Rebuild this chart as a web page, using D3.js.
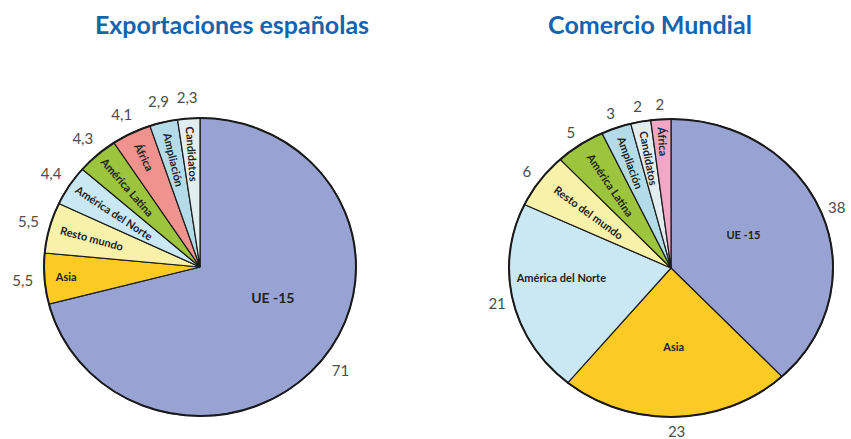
<!DOCTYPE html>
<html>
<head>
<meta charset="utf-8">
<script src="https://cdn.jsdelivr.net/npm/d3@7"></script>
<style>
  body { margin: 0; background: #fff; }
  svg { display: block; font-family: Lato, "Open Sans", sans-serif; }
  .title { fill: #1763ad; font-weight: bold; font-size: 25px; }
  .val { fill: #4d4d4d; font-size: 15px; }
  .lab { fill: #222; font-weight: bold; }
</style>
</head>
<body>
<svg id="svg" width="851" height="439"></svg>
<script>
// Exportaciones españolas
var espCategories = ["UE -15", "Asia", "Resto mundo", "América del Norte", "América Latina", "África", "Ampliación", "Candidatos"];
var espValues = [71, 5.5, 5.5, 4.4, 4.3, 4.1, 2.9, 2.3];
var espValueLabels = ["71", "5,5", "5,5", "4,4", "4,3", "4,1", "2,9", "2,3"];

// Comercio Mundial
var mundCategories = ["UE -15", "Asia", "América del Norte", "Resto del mundo", "América Latina", "Ampliación", "Candidatos", "África"];
var mundValues = [38, 23, 21, 6, 5, 3, 2, 2];
var mundValueLabels = ["38", "23", "21", "6", "5", "3", "2", "2"];

var colors = {
  "UE -15": "#99a3d3",
  "Asia": "#fbcb23",
  "Resto mundo": "#f8f1aa",
  "Resto del mundo": "#f8f1aa",
  "América del Norte": "#c9e8f4",
  "América Latina": "#9dc43d",
  "Ampliación": "#b4dce8",
  "Candidatos": "#e2edef"
};

var svg = d3.select("#svg");

function drawPie(opts) {
  var R = 100;
  var g = svg.append("g");
  var pie = d3.pie().value(function(d) { return d.value; }).sort(null);
  var arc = d3.arc().innerRadius(0).outerRadius(R);
  var data = opts.cats.map(function(c, i) { return { name: c, value: opts.values[i], label: opts.valLabels[i], i: i }; });
  var arcs = pie(data);

  g.append("g")
    .attr("transform", "translate(" + opts.cx + "," + opts.cy + ") scale(" + opts.rx / R + "," + opts.ry / R + ")")
    .selectAll("path")
    .data(arcs)
    .enter().append("path")
    .attr("d", arc)
    .attr("fill", function(d) { return opts.color(d.data.name); })
    .attr("stroke", "#1a1a1a")
    .attr("stroke-width", 1.2)
    .attr("vector-effect", "non-scaling-stroke");

  g.append("ellipse")
    .attr("cx", opts.cx).attr("cy", opts.cy)
    .attr("rx", opts.rx).attr("ry", opts.ry)
    .attr("fill", "none").attr("stroke", "#1a1a1a").attr("stroke-width", 2);

  function pt(a, f) {
    return [opts.cx + Math.sin(a) * opts.rx * f, opts.cy - Math.cos(a) * opts.ry * f];
  }

  // values outside
  g.selectAll("text.val")
    .data(arcs)
    .enter().append("text")
    .attr("class", "val")
    .attr("text-anchor", "middle")
    .attr("dy", "0.35em")
    .attr("transform", function(d) {
      var a = (d.startAngle + d.endAngle) / 2;
      return "translate(" + pt(a, opts.valR) + ")";
    })
    .text(function(d) { return d.data.label; });

  // names inside
  g.selectAll("text.lab")
    .data(arcs)
    .enter().append("text")
    .attr("class", "lab")
    .attr("text-anchor", "middle")
    .attr("dy", "0.35em")
    .style("font-size", function(d) { return opts.labSize(d.data.i) + "px"; })
    .attr("transform", function(d) {
      var a = (d.startAngle + d.endAngle) / 2;
      var la = a + (opts.labShift[d.data.i] || 0) * Math.PI / 180;
      var p = pt(la, opts.labR[d.data.i]);
      var rot = opts.rotate[d.data.i] ? a * 180 / Math.PI - 270 : 0;
      return "translate(" + p + ") rotate(" + rot + ")";
    })
    .text(function(d) { return d.data.name; });

  svg.append("text")
    .attr("class", "title")
    .attr("x", opts.titleX).attr("y", 34)
    .attr("text-anchor", "middle")
    .text(opts.title);
}

drawPie({
  title: "Exportaciones españolas", titleX: 232,
  cats: espCategories, values: espValues, valLabels: espValueLabels,
  cx: 200, cy: 267, rx: 156, ry: 149,
  color: function(n) { return n === "África" ? "#f0938f" : colors[n]; },
  labR: [0.51, 0.86, 0.72, 0.66, 0.71, 0.82, 0.74, 0.76],
  labShift: [-14, 0, 0, 0, 0, 0, 0, 0],
  rotate: [false, false, true, true, true, true, true, true],
  labSize: function(i) { return i === 0 ? 14 : 11; },
  valR: 1.14
});

drawPie({
  title: "Comercio Mundial", titleX: 650,
  cats: mundCategories, values: mundValues, valLabels: mundValueLabels,
  cx: 671, cy: 268, rx: 162, ry: 149,
  color: function(n) { return n === "África" ? "#f1a7c6" : colors[n]; },
  labR: [0.5, 0.53, 0.68, 0.63, 0.67, 0.75, 0.75, 0.85],
  labShift: [-5, 0, 7, 0, 0, 0, 0, 0],
  rotate: [false, false, false, true, true, true, true, true],
  labSize: function(i) { return 11; },
  valR: 1.1
});
</script>
</body>
</html>
